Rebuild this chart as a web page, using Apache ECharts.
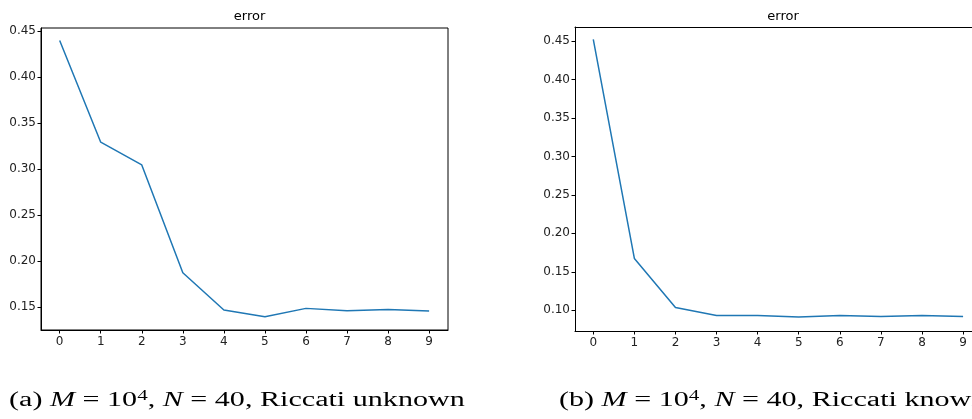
<!DOCTYPE html>
<html><head><meta charset="utf-8">
<script src="https://cdn.jsdelivr.net/npm/echarts@6/dist/echarts.min.js"></script>
<style>html,body{margin:0;padding:0;background:#fff;overflow:hidden}#c{width:972px;height:419px}</style>
</head><body><div id="c"></div>
<script>
const iterations = [0,1,2,3,4,5,6,7,8,9];
const errorUnknown = [0.440,0.3295,0.3048,0.1876,0.1471,0.1398,0.1489,0.1463,0.1478,0.1460];
const errorKnown = [0.452,0.1673,0.1035,0.0931,0.0931,0.0913,0.0930,0.0917,0.0930,0.0920];
const yTicksLeft = [0.15,0.20,0.25,0.30,0.35,0.40,0.45];
const yTicksRight = [0.10,0.15,0.20,0.25,0.30,0.35,0.40,0.45];
const xTicks = [0,1,2,3,4,5,6,7,8,9];

const chart = echarts.init(document.getElementById('c'));
const font = 'DejaVu Sans';
function xAxis(idx,min,max){
  return {gridIndex:idx,type:'value',min:min,max:max,
    axisLine:{show:true,onZero:false,lineStyle:{color:'#000',width:1}},
    axisTick:{show:true,length:3.5,lineStyle:{color:'#000'},customValues:xTicks},
    axisLabel:{color:'#222',fontFamily:font,fontSize:12,margin:6,customValues:xTicks,formatter:v=>String(v)},
    splitLine:{show:false}};
}
function topAxis(idx,min,max){
  return {gridIndex:idx,type:'value',position:'top',min:min,max:max,
    axisLine:{show:true,onZero:false,lineStyle:{color:'#000',width:1}},
    axisTick:{show:false},axisLabel:{show:false},splitLine:{show:false}};
}
function yAxis(idx,min,max,ticks){
  return {gridIndex:idx,type:'value',min:min,max:max,
    axisLine:{show:true,onZero:false,lineStyle:{color:'#000',width:1}},
    axisTick:{show:true,length:3.5,lineStyle:{color:'#000'},customValues:ticks},
    axisLabel:{color:'#222',fontFamily:font,fontSize:12,margin:5,customValues:ticks,formatter:v=>v.toFixed(2)},
    splitLine:{show:false}};
}
const capRich = {
  t:{fontFamily:'Liberation Serif',fontSize:20,fontWeight:'normal',fill:'#000',lineHeight:22,verticalAlign:'bottom'},
  i:{fontFamily:'Liberation Serif',fontStyle:'italic',fontWeight:'normal',fontSize:20,fill:'#000',lineHeight:22,verticalAlign:'bottom'},
  s:{fontFamily:'Liberation Serif',fontSize:14,fontWeight:'normal',fill:'#000',lineHeight:14,verticalAlign:'top'}
};
function caption(x, letter, tail){
  return {type:'text',x:x,y:389,scaleX:1.505,scaleY:1,
    style:{text:'{t|('+letter+') }{i|M}{t| = 10}{s|4}{t|, }{i|N}{t| = 40, Riccati '+tail+'}',rich:capRich,fill:'#000'}};
}
chart.setOption({
  animation:false,
  title:[
    {text:'error',left:244.5,textAlign:'center',top:5,textStyle:{fontFamily:font,fontSize:13,fontWeight:'normal',color:'#000'}},
    {text:'error',left:778,textAlign:'center',top:5,textStyle:{fontFamily:font,fontSize:13,fontWeight:'normal',color:'#000'}}
  ],
  graphic:[caption(9,'a','unknown'),caption(559,'b','known')],
  grid:[
    {left:41,top:28,width:407,height:302,show:true,borderColor:'#000',borderWidth:1,backgroundColor:'#fff',outerBoundsMode:'none'},
    {left:575,top:27,width:430,height:304,show:false,outerBoundsMode:'none'}
  ],
  xAxis:[xAxis(0,-0.455,9.46),xAxis(1,-0.445,10.02),topAxis(1,-0.445,10.02)],
  yAxis:[yAxis(0,0.1254,0.4536,yTicksLeft),yAxis(1,0.0730,0.4682,yTicksRight)],
  series:[
    {type:'line',xAxisIndex:0,yAxisIndex:0,data:iterations.map((x,i)=>[x,errorUnknown[i]]),showSymbol:false,lineStyle:{color:'#1f77b4',width:1.5},itemStyle:{color:'#1f77b4'}},
    {type:'line',xAxisIndex:1,yAxisIndex:1,data:iterations.map((x,i)=>[x,errorKnown[i]]),showSymbol:false,lineStyle:{color:'#1f77b4',width:1.5},itemStyle:{color:'#1f77b4'}}
  ]
});
</script></body></html>
